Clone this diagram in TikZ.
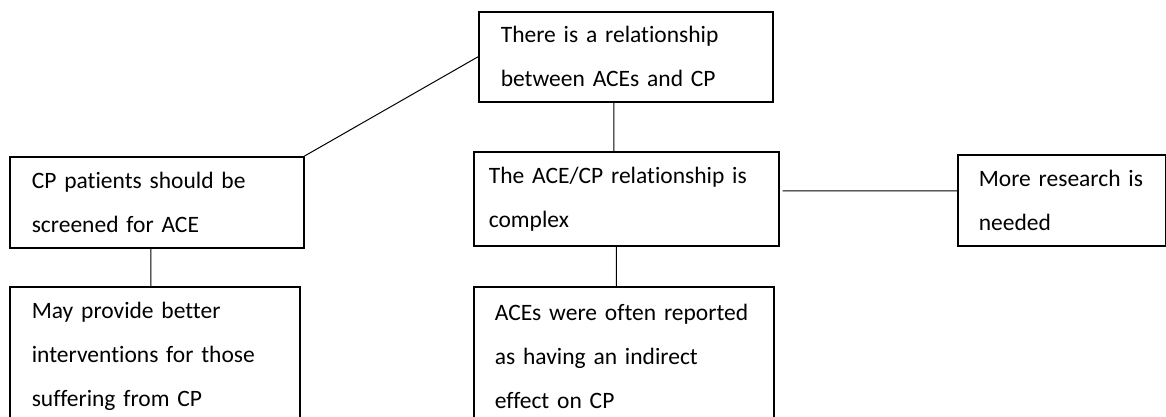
\documentclass[tikz,border=0pt]{standalone}
\usepackage{fontspec}
\setmainfont{Carlito}[Ligatures={NoCommon}]
\usetikzlibrary{calc,positioning}

\begin{document}
\begin{tikzpicture}[x=1pt, y=-1pt,
    box/.style={draw, line width=1.6pt, anchor=north west, align=left, inner ysep=0pt,
        font=\fontsize{23.5}{44}\selectfont},
    link/.style={line width=1pt}]
    \useasboundingbox (0, 0) rectangle (1166, 416);

    \node[box, text width=250pt, inner xsep=22pt, minimum height=90pt] (rel) at (478, 11) {There is a relationship\\between ACEs and CP};
    \node[box, text width=250pt, inner xsep=22pt, minimum height=91pt] (screen) at (9, 156) {CP patients should be\\screened for ACE};
    \node[box, text width=275pt, inner xsep=15pt, minimum height=94pt] (cplx) at (473, 151) {The ACE/CP relationship is\\complex};
    \node[box, text width=166pt, inner xsep=21pt, minimum height=91pt] (more) at (957, 154) {More research is\\needed};
    \node[box, text width=246pt, inner xsep=22pt, minimum height=140pt] (better) at (9, 286) {May provide better\\interventions for those\\suffering from CP};
    \node[box, text width=258pt, inner xsep=21pt, minimum height=140pt] (indirect) at (473, 286) {ACEs were often reported\\as having an indirect\\effect on CP};

    \coordinate (rs) at ([xshift=-12pt]rel.south);
    \coordinate (cs) at ([xshift=-10pt]cplx.south);
    \coordinate (ce) at ([xshift=3pt, yshift=8pt]cplx.east);
    \coordinate (ss) at ([xshift=-6pt]screen.south);

    \draw[link]
    (screen.north east) -- (rel.west)
    (rs) -- (rs |- cplx.north)
    (cs) -- (cs |- indirect.north)
    (ce) -- (ce -| more.west)
    (ss) -- (ss |- better.north);
\end{tikzpicture}
\end{document}
